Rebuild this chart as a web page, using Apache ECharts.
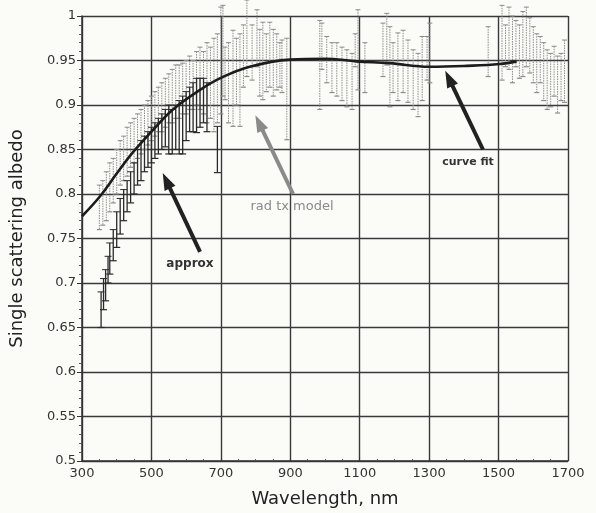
<!DOCTYPE html>
<html>
<head>
<meta charset="utf-8">
<script src="https://cdn.jsdelivr.net/npm/echarts@6/dist/echarts.min.js"></script>
<style>
  html, body { margin: 0; padding: 0; background: #fbfbf8; }
  #chart { width: 596px; height: 513px; }
</style>
</head>
<body>
<div id="chart"></div>
<script>
// curve fit
const fitX = [300, 352, 400, 447, 500, 562, 640, 703, 783, 899, 1000, 1091, 1186, 1301, 1408, 1503, 1552];
const fitY = [0.775, 0.7975, 0.823, 0.847, 0.870, 0.895, 0.917, 0.931, 0.943, 0.951, 0.952, 0.949, 0.947, 0.943, 0.944, 0.946, 0.949];

// rad tx model (grey error bars)
const radX = [350, 360, 370, 380, 390, 400, 410, 420, 430, 440, 450, 460, 470, 480, 490, 500, 510, 520, 530, 540,
  550, 560, 570, 580, 590, 600, 610, 620, 630, 640, 650, 660, 670, 680, 690, 700,
  706, 712, 722, 735, 745, 755, 765, 775, 790, 804, 812, 821, 831, 841, 851, 861, 870, 876, 890,
  985, 991, 1005, 1020, 1034, 1049, 1063, 1078, 1087, 1095, 1115,
  1167, 1178, 1187, 1196, 1210, 1225, 1239, 1254, 1268, 1280, 1294, 1302, 1470,
  1510, 1520, 1530, 1540, 1550, 1560, 1570, 1580, 1590, 1600, 1610, 1620, 1630, 1640, 1650, 1660, 1670, 1680, 1690];
const radLo = [0.76, 0.765, 0.77, 0.78, 0.79, 0.80, 0.81, 0.815, 0.82, 0.83, 0.835, 0.84, 0.845, 0.85, 0.855, 0.86, 0.865, 0.87, 0.87, 0.875,
  0.88, 0.88, 0.885, 0.885, 0.89, 0.89, 0.895, 0.895, 0.90, 0.895, 0.89, 0.88, 0.885, 0.87, 0.88, 0.89,
  0.91, 0.906, 0.88, 0.876, 0.90, 0.876, 0.92, 0.932, 0.928, 0.943, 0.91, 0.906, 0.915, 0.92, 0.91, 0.917, 0.92, 0.914, 0.861,
  0.895, 0.94, 0.925, 0.914, 0.91, 0.905, 0.898, 0.895, 0.943, 0.917, 0.914,
  0.932, 0.945, 0.898, 0.914, 0.905, 0.914, 0.903, 0.895, 0.887, 0.905, 0.928, 0.925, 0.932,
  0.928, 0.943, 0.94, 0.925, 0.943, 0.93, 0.932, 0.943, 0.936, 0.925, 0.914, 0.925, 0.905, 0.895, 0.898, 0.91, 0.891, 0.905, 0.903];
const radHi = [0.81, 0.815, 0.825, 0.835, 0.84, 0.85, 0.86, 0.865, 0.875, 0.88, 0.885, 0.89, 0.895, 0.90, 0.905, 0.91, 0.915, 0.92, 0.925, 0.93,
  0.935, 0.94, 0.945, 0.945, 0.947, 0.95, 0.955, 0.95, 0.96, 0.965, 0.96, 0.97, 0.965, 0.975, 0.98, 1.01,
  1.012, 0.965, 0.97, 0.984, 0.975, 0.98, 0.99, 1.018, 0.99, 1.007, 0.985, 0.993, 0.98, 0.993, 0.985, 0.98, 0.97, 0.973, 0.975,
  0.995, 0.992, 0.977, 0.97, 0.97, 0.965, 0.962, 0.958, 0.98, 1.007, 0.97,
  0.992, 1.003, 0.988, 0.97, 0.981, 0.984, 0.973, 0.962, 0.958, 0.977, 0.977, 0.992, 0.988,
  1.012, 0.99, 1.01, 1.0, 0.995, 0.99, 1.005, 1.01, 0.998, 0.988, 0.98, 0.977, 0.97, 0.962, 0.958, 0.966, 0.955, 0.958, 0.973];

// approx (dark error bars)
const apxX = [355, 362, 368, 375, 380, 390, 400, 410, 420, 430, 440, 450, 460, 470, 480, 490, 500, 510, 520, 530,
  540, 550, 560, 570, 580, 590, 600, 610, 620, 630, 640, 650, 660, 690];
const apxLo = [0.65, 0.67, 0.68, 0.70, 0.71, 0.725, 0.74, 0.755, 0.77, 0.78, 0.79, 0.80, 0.81, 0.815, 0.825, 0.83, 0.835, 0.84, 0.845, 0.85,
  0.853, 0.845, 0.845, 0.85, 0.845, 0.845, 0.86, 0.87, 0.87, 0.869, 0.875, 0.88, 0.87, 0.824];
const apxHi = [0.69, 0.705, 0.715, 0.73, 0.745, 0.76, 0.78, 0.795, 0.805, 0.815, 0.825, 0.835, 0.85, 0.86, 0.865, 0.87, 0.875, 0.88, 0.885, 0.89,
  0.895, 0.90, 0.895, 0.90, 0.905, 0.91, 0.915, 0.92, 0.925, 0.93, 0.93, 0.93, 0.925, 0.876];

const xTicks = [300, 1700, 200];
const yTicks = [0.5, 1, 0.05];

function bars(xs, lo, hi) {
  return xs.map((x, i) => [x, lo[i], hi[i]]);
}

function errorBar(color, dash, cap, width) {
  return function (params, api) {
    const x = api.value(0);
    const top = api.coord([x, api.value(2)]);
    const bot = api.coord([x, api.value(1)]);
    return {
      type: 'group',
      children: [
        { type: 'line', shape: { x1: top[0], y1: top[1], x2: bot[0], y2: bot[1] },
          style: { stroke: color, lineWidth: width, lineDash: dash } },
        { type: 'line', shape: { x1: top[0] - cap, y1: top[1], x2: top[0] + cap, y2: top[1] },
          style: { stroke: color, lineWidth: 1 } },
        { type: 'line', shape: { x1: bot[0] - cap, y1: bot[1], x2: bot[0] + cap, y2: bot[1] },
          style: { stroke: color, lineWidth: 1.2 } }
      ]
    };
  };
}

const labelFont = 'DejaVu Sans, Liberation Sans, sans-serif';
const arrowLine = (from, to, color) => [
  { coord: from, symbol: 'none' },
  { coord: to, symbol: 'triangle', symbolSize: [12, 17], lineStyle: { color: color } }
];

const chart = echarts.init(document.getElementById('chart'));
chart.setOption({
  backgroundColor: '#fbfbf8',
  animation: false,
  grid: { left: 82, right: 28, top: 16, bottom: 50 },
  xAxis: {
    type: 'value', min: xTicks[0], max: xTicks[1], interval: xTicks[2],
    name: 'Wavelength, nm', nameLocation: 'middle', nameGap: 29,
    nameTextStyle: { fontFamily: labelFont, fontSize: 18, color: '#222' },
    axisLine: { lineStyle: { color: '#333', width: 1.5 } },
    axisTick: { inside: true, length: 4, lineStyle: { color: '#333' } },
    minorTick: { show: true, splitNumber: 4, length: 2, lineStyle: { color: '#555' } },
    axisLabel: { fontFamily: labelFont, fontSize: 13, color: '#333', margin: 6, formatter: v => String(v) },
    splitLine: { show: true, lineStyle: { color: '#3a3a3a', width: 1.4 } }
  },
  yAxis: {
    type: 'value', min: yTicks[0], max: yTicks[1], interval: yTicks[2],
    name: 'Single scattering albedo', nameLocation: 'middle', nameGap: 56,
    nameTextStyle: { fontFamily: labelFont, fontSize: 18, color: '#222' },
    axisLine: { lineStyle: { color: '#333', width: 1.5 } },
    axisTick: { length: 5, lineStyle: { color: '#333' } },
    minorTick: { show: true, splitNumber: 5, length: 3, lineStyle: { color: '#555' } },
    axisLabel: { fontFamily: labelFont, fontSize: 13, color: '#333', margin: 6 },
    splitLine: { show: true, lineStyle: { color: '#3a3a3a', width: 1.4 } }
  },
  series: [
    {
      name: 'rad tx model', type: 'custom',
      renderItem: errorBar('#8c8c8c', [1.5, 1], 2.5, 1),
      data: bars(radX, radLo, radHi), z: 2
    },
    {
      name: 'approx', type: 'custom',
      renderItem: errorBar('#2a2a2a', null, 3.5, 1.3),
      data: bars(apxX, apxLo, apxHi), z: 3
    },
    {
      name: 'curve fit', type: 'line', smooth: 0.4, showSymbol: false,
      data: fitX.map((x, i) => [x, fitY[i]]),
      lineStyle: { color: '#1c1c1c', width: 2.6 }, z: 4,
      markLine: {
        silent: true, animation: false,
        label: { show: false },
        lineStyle: { type: 'solid', width: 4, color: '#222' },
        data: [
          arrowLine([1455, 0.850], [1357, 0.930], '#222'),
          arrowLine([640, 0.735], [543, 0.815], '#222'),
          [{ coord: [908, 0.80], symbol: 'none', lineStyle: { color: '#8a8a8a', width: 4 } },
           { coord: [810, 0.880], symbol: 'triangle', symbolSize: [12, 17] }]
        ]
      },
      markPoint: {
        silent: true, symbol: 'rect', symbolSize: 1,
        itemStyle: { color: 'rgba(0,0,0,0)' },
        label: { show: true, position: 'inside', fontFamily: labelFont, fontSize: 11, fontWeight: 'bold', color: '#333' },
        data: [
          { coord: [1412, 0.836], label: { formatter: 'curve fit' } },
          { coord: [905, 0.786], label: { formatter: 'rad tx model', color: '#8a8a8a', fontWeight: 'normal', fontSize: 13 } },
          { coord: [611, 0.721], label: { formatter: 'approx', fontSize: 12 } }
        ]
      }
    }
  ]
});
</script>
</body>
</html>
